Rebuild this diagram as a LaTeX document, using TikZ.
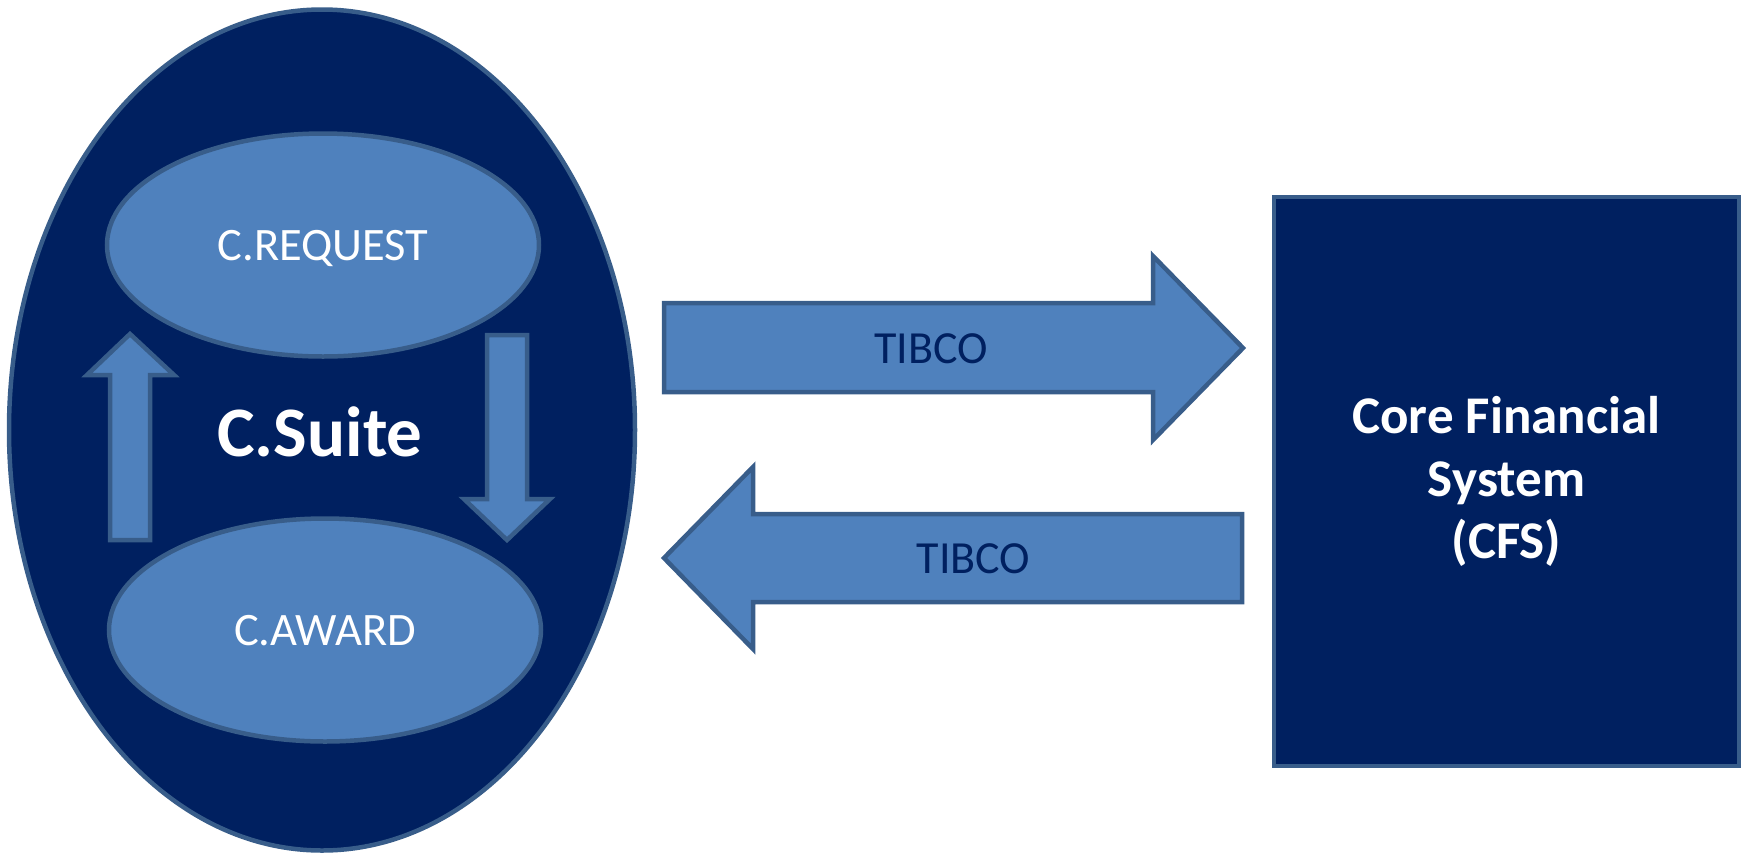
\documentclass[tikz,border=0pt]{standalone}
\usepackage{fontspec}
\setmainfont{Carlito}
\usetikzlibrary{shapes.geometric}
\definecolor{navy}{HTML}{002060}
\definecolor{lblue}{HTML}{4F81BD}
\definecolor{bord}{HTML}{385D8A}
\begin{document}
\begin{tikzpicture}[x=1pt,y=-1pt,
  edge/.style={draw=bord, line width=4.5pt},
  outer/.style={ellipse, edge, fill=navy, minimum width=626pt, minimum height=841pt, inner sep=0pt},
  inner/.style={ellipse, edge, fill=lblue, minimum width=432pt, minimum height=223pt, inner sep=0pt,
    text=white, font=\fontsize{46.5}{56}\selectfont, text height=30pt, text depth=0pt},
  blockarrow/.style={edge, fill=lblue},
  tib/.style={text=navy, font=\fontsize{46}{56}\selectfont, anchor=base, inner sep=0pt},
  cfsbox/.style={rectangle, edge, fill=navy, minimum width=465pt, minimum height=569pt, inner sep=0pt,
    text=white, align=center, font=\bfseries\fontsize{53}{62.5}\selectfont}
]
\useasboundingbox (0,0) rectangle (1746,855);

\node[outer] (suite) at (322,430) {};
\node[inner] (req) at (323,245) {C.REQUEST};
\node[inner] (award) at (325,630) {C.AWARD};

% up arrow (award -> request)
\draw[blockarrow] (110,540) -- (110,375) -- (87,375) -- (130,334) -- (174,375) -- (150,375) -- (150,540) -- cycle;
% down arrow (request -> award)
\draw[blockarrow] (487,335) -- (527,335) -- (527,499) -- (550,499) -- (507,540) -- (464,499) -- (487,499) -- cycle;

\node[text=white, font=\bfseries\fontsize{71}{85}\selectfont, anchor=base, inner sep=0pt] (suitelabel) at (320,456) {C.Suite};

% TIBCO arrows
\draw[blockarrow] (664,303) -- (1153,303) -- (1153,256) -- (1243,348) -- (1153,440) -- (1153,392) -- (664,392) -- cycle;
\node[tib] (tib1) at (931,363) {TIBCO};
\draw[blockarrow] (1242,514) -- (753,514) -- (753,467) -- (664,558) -- (753,649) -- (753,602) -- (1242,602) -- cycle;
\node[tib] (tib2) at (973.5,573) {TIBCO};

\node[cfsbox] (cfs) at (1506.5,481.5) {Core Financial\\System\\(CFS)};
\end{tikzpicture}
\end{document}
